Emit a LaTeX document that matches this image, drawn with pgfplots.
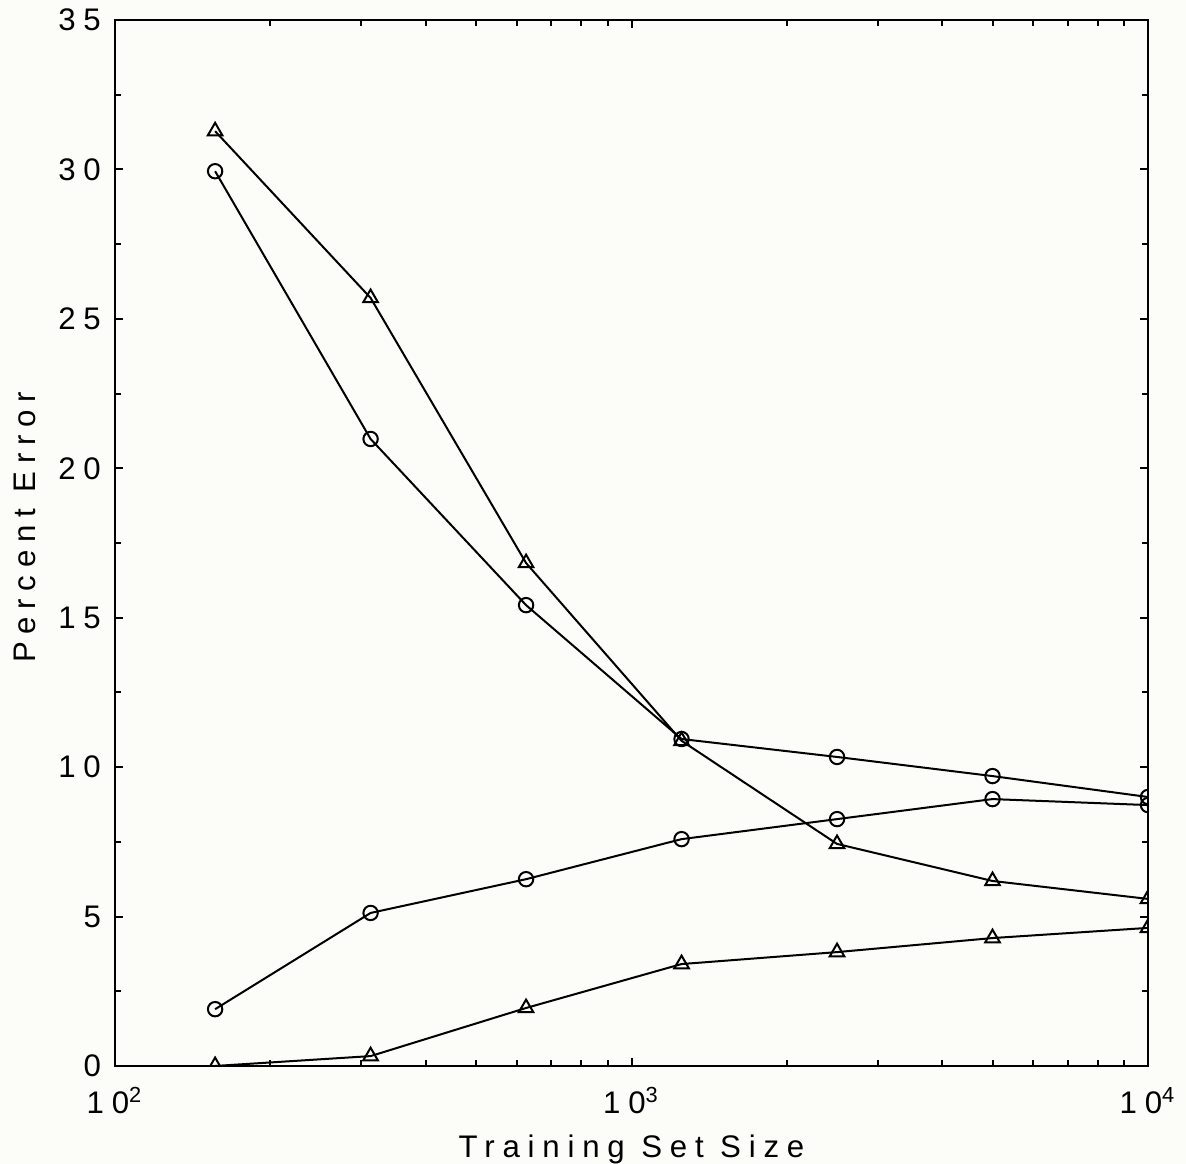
\documentclass[border=0pt]{standalone}
\usepackage{pgfplots}
\pgfplotsset{compat=1.18}
\usepackage{fontspec}
\setmainfont{Liberation Sans}[LetterSpace=25]
\usetikzlibrary{backgrounds}
\definecolor{paper}{RGB}{252,252,248}

\begin{document}
\begin{tikzpicture}
\begin{axis}[
  scale only axis, width=258.25pt, height=261.5pt,
  xmode=log, xmin=100, xmax=10000, ymin=0, ymax=35,
  xtick={100,1000,10000},
  xticklabels={10\textsuperscript{2},10\textsuperscript{3},10\textsuperscript{4}},
  minor xtick={200,300,400,500,600,700,800,900,2000,3000,4000,5000,6000,7000,8000,9000},
  ytick={0,5,...,35}, minor ytick={2.5,7.5,...,32.5},
  tick align=inside, major tick length=2pt, minor tick length=1.6pt,
  tick style={black, line width=0.5pt},
  axis line style={line width=0.65pt},
  /pgf/number format/assume math mode=true,
  ticklabel style={font=\fontsize{7.8}{9}\selectfont},
  xticklabel style={yshift=-1.8pt},
  xlabel={Training Set Size}, ylabel={Percent Error},
  label style={font=\fontsize{7.8}{9}\selectfont},
  xlabel style={at={(axis description cs:0.5,-0.052)}, anchor=north},
  ylabel style={at={(axis description cs:-0.087,0.515)}, anchor=center},
  clip marker paths=true,
  every axis plot/.append style={black, line width=0.5pt, mark options={solid, fill=none, line width=0.5pt}},
]
% triangles, decreasing
\addplot[mark=triangle, mark size=2.1pt] coordinates {
  (156.25,31.28) (312.5,25.7) (625,16.83) (1250,10.88) (2500,7.43) (5000,6.19) (10000,5.59)};
% circles, decreasing
\addplot[mark=o, mark size=1.8pt] coordinates {
  (156.25,29.94) (312.5,20.98) (625,15.42) (1250,10.94) (2500,10.34) (5000,9.70) (10000,9.0)};
% circles, increasing
\addplot[mark=o, mark size=1.8pt] coordinates {
  (156.25,1.9) (312.5,5.12) (625,6.25) (1250,7.59) (2500,8.26) (5000,8.93) (10000,8.73)};
% triangles, increasing
\addplot[mark=triangle, mark size=2.1pt] coordinates {
  (156.25,0) (312.5,0.33) (625,1.94) (1250,3.41) (2500,3.81) (5000,4.28) (10000,4.62)};
\end{axis}
\pgfresetboundingbox
\path (current axis.south west)+(-28.75pt,-24.5pt) coordinate (bl)
      (current axis.north east)+(9.5pt,5pt) coordinate (tr);
\path (bl) rectangle (tr);
\begin{scope}[on background layer]
  \fill[paper] (bl) rectangle (tr);
\end{scope}
\end{tikzpicture}
\end{document}
